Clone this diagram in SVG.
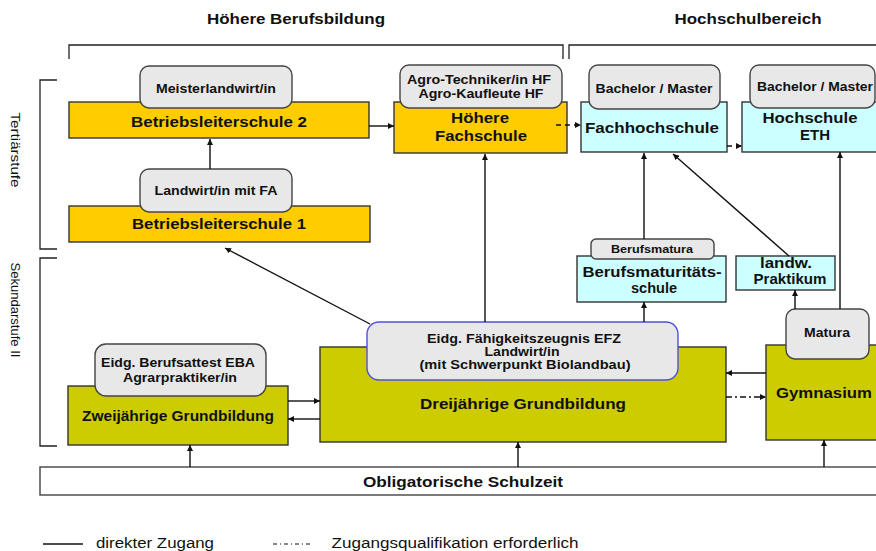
<svg xmlns="http://www.w3.org/2000/svg" width="876" height="551" viewBox="0 0 876 551">
<style>
text{font-family:"Liberation Sans",Arial,sans-serif;font-weight:bold;fill:#111;text-anchor:middle}
.reg{font-weight:normal}
.yel{fill:#FFCC00;stroke:#333;stroke-width:1.4}
.oli{fill:#CCCC00;stroke:#333;stroke-width:1.4}
.cya{fill:#CCFFFF;stroke:#333;stroke-width:1.4}
.wht{fill:#fff;stroke:#444;stroke-width:1.4}
.bdg{fill:#E8E8E8;stroke:#444;stroke-width:1.4}
.efz{fill:#E8E8E8;stroke:#5050D8;stroke-width:1.4}
.br{fill:none;stroke:#222;stroke-width:1.3}
.c{fill:none;stroke:#111;stroke-width:1.4;marker-end:url(#ah)}
.d{stroke-dasharray:5 4}
.dd{stroke-dasharray:6 3 2 3}
</style>
<defs>
<marker id="ah" viewBox="0 0 10 10" refX="10" refY="5" markerWidth="6" markerHeight="6" orient="auto" markerUnits="userSpaceOnUse">
<path d="M0,0 L10,5 L0,10 z" fill="#111"/>
</marker>
</defs>

<g id="headers">
<text x="296" y="24" font-size="15" textLength="178" lengthAdjust="spacingAndGlyphs">Höhere Berufsbildung</text>
<text x="748" y="24" font-size="15" textLength="147" lengthAdjust="spacingAndGlyphs">Hochschulbereich</text>
<path class="br" d="M69,59 V45 H563 V59"/>
<path class="br" d="M569,59 V45 H880"/>
<path class="br" d="M57,80 H40 V249 H57"/>
<path class="br" d="M57,258 H40 V446 H57"/>
<text class="reg" transform="translate(10.5,150) rotate(90)" font-size="13" textLength="75" lengthAdjust="spacingAndGlyphs">Tertiärstufe</text>
<text class="reg" transform="translate(10.5,310) rotate(90)" font-size="13" textLength="95" lengthAdjust="spacingAndGlyphs">Sekundarstufe  II</text>
</g>

<g id="bls2">
<rect class="yel" x="69" y="102" width="300" height="36"/>
<text x="219" y="127" font-size="15.5" textLength="176" lengthAdjust="spacingAndGlyphs">Betriebsleiterschule 2</text>
</g>
<g id="meister">
<rect class="bdg" x="140" y="66" width="152" height="42" rx="9"/>
<text x="216" y="93" font-size="12" textLength="120" lengthAdjust="spacingAndGlyphs">Meisterlandwirt/in</text>
</g>

<g id="hf">
<rect class="yel" x="394" y="102" width="173" height="51"/>
<text x="480" y="123" font-size="14.5" textLength="58" lengthAdjust="spacingAndGlyphs">Höhere</text>
<text x="481" y="141" font-size="14.5" textLength="92" lengthAdjust="spacingAndGlyphs">Fachschule</text>
</g>
<g id="agro">
<rect class="bdg" x="400" y="65" width="162" height="43" rx="9"/>
<text x="479" y="84" font-size="12" textLength="144" lengthAdjust="spacingAndGlyphs">Agro-Techniker/in HF</text>
<text x="481" y="98" font-size="12" textLength="125" lengthAdjust="spacingAndGlyphs">Agro-Kaufleute HF</text>
</g>

<g id="fh">
<rect class="cya" x="581" y="102" width="146" height="50"/>
<text x="652" y="133" font-size="15" textLength="134" lengthAdjust="spacingAndGlyphs">Fachhochschule</text>
</g>
<g id="ba1">
<rect class="bdg" x="589" y="65" width="131" height="44" rx="9"/>
<text x="654" y="93" font-size="12" textLength="117" lengthAdjust="spacingAndGlyphs">Bachelor / Master</text>
</g>

<g id="eth">
<rect class="cya" x="742" y="102" width="140" height="50"/>
<text x="810" y="123" font-size="15" textLength="95" lengthAdjust="spacingAndGlyphs">Hochschule</text>
<text x="815" y="140" font-size="15">ETH</text>
</g>
<g id="ba2">
<rect class="bdg" x="750" y="65" width="125" height="43" rx="9"/>
<text x="815" y="91" font-size="12" textLength="116" lengthAdjust="spacingAndGlyphs">Bachelor / Master</text>
</g>

<g id="bls1">
<rect class="yel" x="69" y="206" width="301" height="36"/>
<text x="219" y="229" font-size="15.5" textLength="174" lengthAdjust="spacingAndGlyphs">Betriebsleiterschule 1</text>
</g>
<g id="landwirtfa">
<rect class="bdg" x="140" y="169" width="152" height="43" rx="9"/>
<text x="216" y="195" font-size="12" textLength="123" lengthAdjust="spacingAndGlyphs">Landwirt/in mit FA</text>
</g>

<g id="bms">
<rect class="cya" x="577" y="256" width="149" height="46"/>
<text x="652" y="277" font-size="14.5" textLength="139" lengthAdjust="spacingAndGlyphs">Berufsmaturitäts-</text>
<text x="654" y="293" font-size="14.5" textLength="46" lengthAdjust="spacingAndGlyphs">schule</text>
</g>
<g id="berufsmatura">
<rect class="bdg" x="591" y="239" width="123" height="20" rx="5"/>
<text x="652" y="253" font-size="10" textLength="82" lengthAdjust="spacingAndGlyphs">Berufsmatura</text>
</g>

<g id="praktikum">
<rect class="cya" x="736" y="256" width="99" height="34"/>
<text x="786" y="268" font-size="14" textLength="52" lengthAdjust="spacingAndGlyphs">landw.</text>
<text x="790" y="284" font-size="14" textLength="73" lengthAdjust="spacingAndGlyphs">Praktikum</text>
</g>

<g id="zwei">
<rect class="oli" x="68" y="386" width="220" height="59"/>
<text x="178" y="421" font-size="14" textLength="192" lengthAdjust="spacingAndGlyphs">Zweijährige Grundbildung</text>
</g>
<g id="eba">
<rect class="bdg" x="95" y="344" width="171" height="52" rx="11"/>
<text x="178" y="367" font-size="12" textLength="154" lengthAdjust="spacingAndGlyphs">Eidg. Berufsattest EBA</text>
<text x="180" y="382" font-size="12" textLength="114" lengthAdjust="spacingAndGlyphs">Agrarpraktiker/in</text>
</g>

<g id="drei">
<rect class="oli" x="320" y="347" width="406" height="95"/>
<text x="523" y="409" font-size="15" textLength="206" lengthAdjust="spacingAndGlyphs">Dreijährige Grundbildung</text>
</g>
<g id="efz">
<rect class="efz" x="367" y="322" width="311" height="58" rx="12"/>
<text x="524" y="343" font-size="12" textLength="194" lengthAdjust="spacingAndGlyphs">Eidg. Fähigkeitszeugnis EFZ</text>
<text x="522" y="356" font-size="12" textLength="75" lengthAdjust="spacingAndGlyphs">Landwirt/in</text>
<text x="525" y="369" font-size="12" textLength="211" lengthAdjust="spacingAndGlyphs">(mit Schwerpunkt Biolandbau)</text>
</g>

<g id="gymnasium">
<rect class="oli" x="766" y="345" width="120" height="95"/>
<text x="824" y="398" font-size="15" textLength="96" lengthAdjust="spacingAndGlyphs">Gymnasium</text>
</g>
<g id="matura">
<rect class="bdg" x="786" y="309" width="83" height="50" rx="9"/>
<text x="827" y="337" font-size="12" textLength="46" lengthAdjust="spacingAndGlyphs">Matura</text>
</g>

<g id="oblig">
<rect class="wht" x="40" y="467" width="846" height="28"/>
<text x="463" y="487" font-size="14" textLength="200" lengthAdjust="spacingAndGlyphs">Obligatorische Schulzeit</text>
</g>

<g id="connectors">
<line class="c" x1="210" y1="169" x2="210" y2="139"/>
<line class="c" x1="369" y1="126" x2="394" y2="126"/>
<line class="c d" x1="556" y1="125" x2="581" y2="125"/>
<line class="c d" x1="727" y1="146" x2="742" y2="146"/>
<line class="c" x1="370" y1="324" x2="225" y2="248"/>
<line class="c" x1="485" y1="322" x2="485" y2="154"/>
<line class="c" x1="644" y1="239" x2="644" y2="153"/>
<line class="c" x1="644" y1="322" x2="644" y2="302"/>
<line class="c" x1="789" y1="256" x2="673" y2="154"/>
<line class="c" x1="795" y1="309" x2="795" y2="290"/>
<line class="c" x1="840" y1="309" x2="840" y2="152"/>
<line class="c" x1="288" y1="401" x2="320" y2="401"/>
<line class="c" x1="320" y1="419" x2="288" y2="419"/>
<line class="c" x1="766" y1="373" x2="726" y2="373"/>
<line class="c dd" x1="726" y1="397" x2="766" y2="397"/>
<line class="c" x1="190" y1="467" x2="190" y2="445"/>
<line class="c" x1="518" y1="467" x2="518" y2="442"/>
<line class="c" x1="824" y1="467" x2="824" y2="440"/>
</g>

<g id="legend">
<line x1="43" y1="544" x2="83" y2="544" stroke="#111" stroke-width="1.3"/>
<text class="reg" x="155" y="548" font-size="14" textLength="118" lengthAdjust="spacingAndGlyphs">direkter Zugang</text>
<line x1="273" y1="544" x2="312" y2="544" stroke="#111" stroke-width="1" stroke-dasharray="4 3 1 3"/>
<text class="reg" x="455" y="548" font-size="14" textLength="247" lengthAdjust="spacingAndGlyphs">Zugangsqualifikation erforderlich</text>
</g>
</svg>
